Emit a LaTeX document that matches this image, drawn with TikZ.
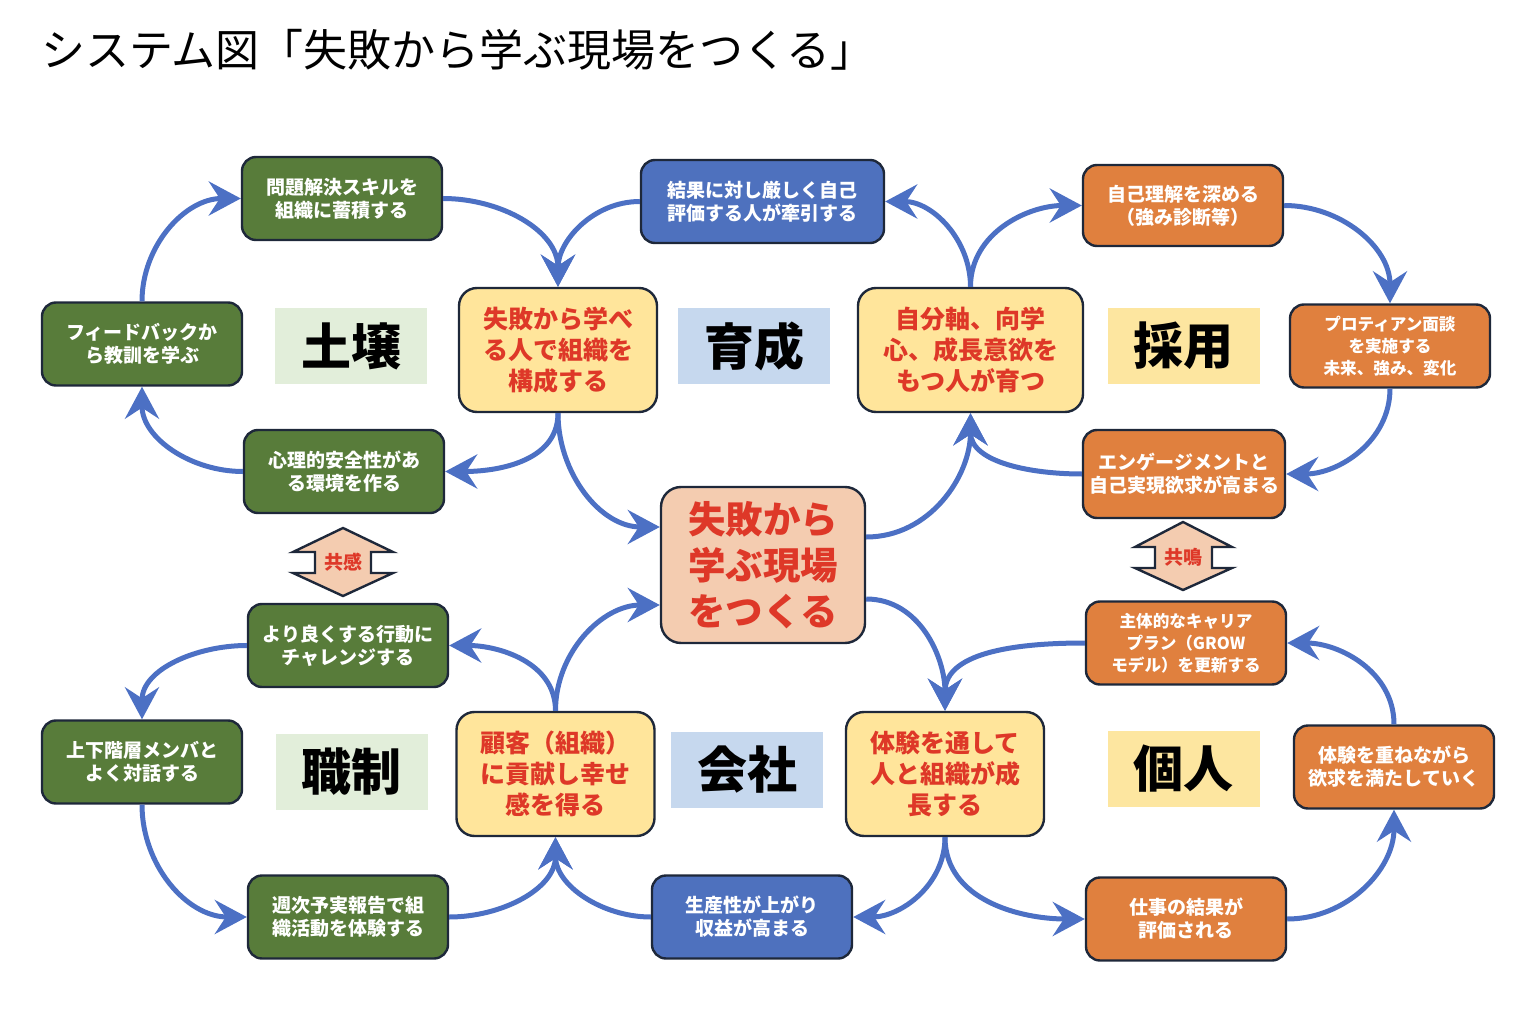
\documentclass[tikz,border=0pt]{standalone}
\usepackage{fontspec}
\setmainfont{Noto Sans CJK JP}
\usetikzlibrary{arrows.meta}
\definecolor{grn}{RGB}{88,124,58}
\definecolor{blu}{RGB}{78,113,190}
\definecolor{org}{RGB}{224,128,62}
\definecolor{yel}{RGB}{255,229,155}
\definecolor{salmon}{RGB}{244,204,176}
\definecolor{tagGrn}{RGB}{226,238,218}
\definecolor{tagBlu}{RGB}{198,216,238}
\definecolor{tagYel}{RGB}{253,230,160}
\definecolor{redtxt}{RGB}{222,56,40}
\definecolor{arr}{RGB}{76,112,196}
\definecolor{edge}{RGB}{30,40,58}
\tikzset{
  box/.style={draw=edge, line width=1.2pt, rounded corners=7pt, align=center, inner sep=2pt,
    text=white, font=\bfseries\fontsize{9.5}{11.5}\selectfont, minimum width=100pt, minimum height=41.5pt},
  grnbox/.style={box, fill=grn},
  blubox/.style={box, fill=blu},
  orgbox/.style={box, fill=org},
  yelbox/.style={box, fill=yel, text=redtxt, rounded corners=9pt, minimum width=99pt, minimum height=62pt,
    font=\bfseries\fontsize{12.5}{15.5}\selectfont},
  hubbox/.style={box, fill=salmon, text=redtxt, rounded corners=10pt, minimum width=102pt, minimum height=78pt,
    font=\bfseries\fontsize{18.75}{23}\selectfont},
  areatag/.style={minimum width=76pt, minimum height=38pt, inner sep=0pt, font=\bfseries\fontsize{25}{28}\selectfont},
  dbl/.style={draw=edge, line width=1.2pt, fill=salmon, line join=miter},
  dbltext/.style={text=redtxt, font=\bfseries\fontsize{9.5}{10}\selectfont},
  conn/.style={draw=arr, line width=2.5pt, -{Stealth[length=16pt,width=17pt,inset=5.5pt]}},
}
\begin{document}
\begin{tikzpicture}[x=0.5pt, y=-0.5pt]
\useasboundingbox (0,0) rectangle (1532,1016);
\node[anchor=west, font=\fontsize{22}{25}\selectfont] (title) at (34,50) {システム図「失敗から学ぶ現場をつくる」};

\node[grnbox] (A1) at (342,198.5) {問題解決スキルを\\組織に蓄積する};
\node[grnbox] (A2) at (142,344) {フィードバックか\\ら教訓を学ぶ};
\node[grnbox] (A3) at (344,471.5) {心理的安全性があ\\る環境を作る};
\node[yelbox] (Y1) at (558,350) {失敗から学べ\\る人で組織を\\構成する};
\node[blubox, minimum width=121.5pt] (B1) at (762.5,201.5) {結果に対し厳しく自己\\評価する人が牽引する};
\node[yelbox, minimum width=112.5pt] (Y2) at (970.5,350) {自分軸、向学\\心、成長意欲を\\もつ人が育つ};
\node[orgbox, minimum height=40.5pt] (O1) at (1183,205.5) {自己理解を深める\\（強み診断等）};
\node[orgbox, font=\bfseries\fontsize{8.3}{11}\selectfont] (O2) at (1390,346) {プロティアン面談\\を実施する\\未来、強み、変化};
\node[orgbox, minimum width=101pt, minimum height=44pt] (O3) at (1184,474) {エンゲージメントと\\自己実現欲求が高まる};
\node[hubbox] (C) at (763,565) {失敗から\\学ぶ現場\\をつくる};
\node[grnbox] (G4) at (348,645.5) {より良くする行動に\\チャレンジする};
\node[grnbox] (G5) at (142,762) {上下階層メンバと\\よく対話する};
\node[grnbox] (G6) at (348,917) {週次予実報告で組\\織活動を体験する};
\node[yelbox] (Y3) at (555.5,774) {顧客（組織）\\に貢献し幸せ\\感を得る};
\node[blubox] (B2) at (752,917) {生産性が上がり\\収益が高まる};
\node[yelbox] (Y4) at (945,774) {体験を通して\\人と組織が成\\長する};
\node[orgbox, font=\bfseries\fontsize{8.3}{11}\selectfont] (O4) at (1186,643) {主体的なキャリア\\プラン（GROW\\モデル）を更新する};
\node[orgbox] (O5) at (1394,767) {体験を重ねながら\\欲求を満たしていく};
\node[orgbox] (O6) at (1186,919) {仕事の結果が\\評価される};

\node[areatag, fill=tagGrn] (soil) at (351,346) {土壌};
\node[areatag, fill=tagBlu] (grow) at (754,346) {育成};
\node[areatag, fill=tagYel] (hire) at (1183.5,346) {採用};
\node[areatag, fill=tagGrn] (rank) at (351.5,771.5) {職制};
\node[areatag, fill=tagBlu] (firm) at (747,770) {会社};
\node[areatag, fill=tagYel] (self) at (1183.5,769) {個人};

\draw[dbl] (343,528) -- (393,552) -- (371,552) -- (371,573) -- (393,573) -- (343,596) -- (293,573) -- (315,573) -- (315,552) -- (293,552) -- cycle;
\node[dbltext] (empathy) at (343,562) {共感};
\draw[dbl] (1183,522) -- (1232,547) -- (1212,547) -- (1212,568) -- (1232,568) -- (1183,590) -- (1135,568) -- (1155,568) -- (1155,547) -- (1135,547) -- cycle;
\node[dbltext] (resonance) at (1183,557) {共鳴};

\draw[conn] (A2.north) to[out=90,in=180] (A1.west);
\draw[conn] (A1.east) to[out=0,in=90] (Y1.north);
\draw[conn] (B1.west) to[out=180,in=90] (Y1.north);
\draw[conn] (Y1.south) to[out=-90,in=0] (A3.east);
\draw[conn] (A3.west) to[out=180,in=-90] (A2.south);
\draw[conn] (Y1.south) to[out=-90,in=180] ([yshift=19pt]C.west);
\draw[conn] ([yshift=14pt]C.east) to[out=0,in=-90] (Y2.south);
\draw[conn] (Y2.north) to[out=90,in=0] (B1.east);
\draw[conn] (Y2.north) to[out=90,in=180] (O1.west);
\draw[conn] (O1.east) to[out=0,in=90] (O2.north);
\draw[conn] (O2.south) to[out=-90,in=0] (O3.east);
\draw[conn] (O3.west) to[out=180,in=-90] (Y2.south);
\draw[conn] ([yshift=-17pt]C.east) to[out=0,in=90] (Y4.north);
\draw[conn] (O4.west) to[out=180,in=90] (Y4.north);
\draw[conn] (Y4.south) to[out=-90,in=0] (B2.east);
\draw[conn] (Y4.south) to[out=-90,in=180] (O6.west);
\draw[conn] (O6.east) to[out=0,in=-90] (O5.south);
\draw[conn] (O5.north) to[out=90,in=0] (O4.east);
\draw[conn] (B2.west) to[out=180,in=-90] (Y3.south);
\draw[conn] (G6.east) to[out=0,in=-90] (Y3.south);
\draw[conn] (Y3.north) to[out=90,in=0] (G4.east);
\draw[conn] (Y3.north) to[out=90,in=180] ([yshift=-20pt]C.west);
\draw[conn] (G4.west) to[out=180,in=90] (G5.north);
\draw[conn] (G5.south) to[out=-90,in=180] (G6.west);
\end{tikzpicture}
\end{document}
